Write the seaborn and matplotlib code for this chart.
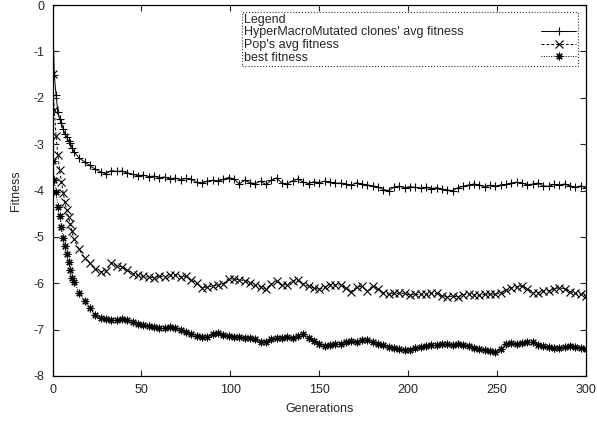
import numpy as np
import pandas as pd
import matplotlib
matplotlib.use("Agg")
import matplotlib.pyplot as plt
import seaborn as sns

# ------------------------------
# Data
# ------------------------------
gens = list(range(0, 12)) + list(range(12, 301, 3))

hm_avg = [0.00, -1.50, -1.95, -2.30, -2.45, -2.55, -2.68, -2.78, -2.85, -2.93, -2.98, -3.08,
          -3.16, -3.30, -3.38, -3.46, -3.54, -3.60, -3.64, -3.57, -3.59, -3.58, -3.62, -3.65,
          -3.68, -3.67, -3.70, -3.69, -3.72, -3.71, -3.75, -3.73, -3.77, -3.74, -3.76, -3.82,
          -3.84, -3.80, -3.78, -3.80, -3.76, -3.72, -3.75, -3.86, -3.78, -3.83, -3.85, -3.80,
          -3.87, -3.78, -3.73, -3.84, -3.86, -3.79, -3.75, -3.82, -3.85, -3.81, -3.83, -3.80,
          -3.82, -3.84, -3.84, -3.86, -3.89, -3.83, -3.86, -3.88, -3.90, -3.92, -3.98, -4.00,
          -3.93, -3.91, -3.94, -3.92, -3.93, -3.95, -3.93, -3.96, -3.94, -3.97, -3.99, -4.00,
          -3.94, -3.91, -3.88, -3.86, -3.88, -3.92, -3.89, -3.91, -3.88, -3.87, -3.84, -3.82,
          -3.84, -3.88, -3.86, -3.84, -3.90, -3.91, -3.87, -3.88, -3.86, -3.90, -3.93, -3.90,
          -3.94]

pop_avg = [-1.49, -2.26, -2.82, -3.23, -3.56, -3.81, -4.05, -4.25, -4.42, -4.58, -4.72, -4.88,
           -5.05, -5.27, -5.45, -5.57, -5.69, -5.75, -5.74, -5.56, -5.62, -5.65, -5.72, -5.79,
           -5.83, -5.85, -5.87, -5.88, -5.85, -5.86, -5.83, -5.82, -5.86, -5.85, -5.93, -6.00,
           -6.10, -6.08, -6.06, -6.04, -6.01, -5.90, -5.91, -5.92, -5.95, -6.00, -6.04, -6.08,
           -6.12, -6.02, -5.96, -6.04, -6.03, -5.95, -5.94, -6.02, -6.06, -6.10, -6.13, -6.08,
           -6.03, -6.04, -6.03, -6.10, -6.18, -6.08, -6.07, -6.17, -6.06, -6.12, -6.20, -6.24,
           -6.22, -6.21, -6.22, -6.25, -6.24, -6.24, -6.23, -6.22, -6.22, -6.27, -6.29, -6.28,
           -6.29, -6.25, -6.23, -6.25, -6.26, -6.24, -6.23, -6.24, -6.20, -6.15, -6.10, -6.08,
           -6.06, -6.12, -6.20, -6.20, -6.17, -6.16, -6.12, -6.10, -6.12, -6.18, -6.22, -6.24,
           -6.28]

best = [-3.36, -3.77, -4.04, -4.35, -4.56, -4.78, -5.03, -5.19, -5.37, -5.55, -5.72, -5.88,
        -5.98, -6.21, -6.39, -6.54, -6.68, -6.74, -6.78, -6.80, -6.80, -6.77, -6.79, -6.83,
        -6.88, -6.90, -6.92, -6.95, -6.97, -6.96, -6.95, -6.97, -7.01, -7.05, -7.10, -7.13,
        -7.15, -7.16, -7.09, -7.08, -7.11, -7.13, -7.15, -7.16, -7.17, -7.19, -7.20, -7.26,
        -7.27, -7.21, -7.18, -7.17, -7.16, -7.18, -7.13, -7.09, -7.19, -7.25, -7.30, -7.36,
        -7.34, -7.31, -7.30, -7.27, -7.25, -7.26, -7.23, -7.23, -7.27, -7.31, -7.34, -7.37,
        -7.40, -7.42, -7.45, -7.44, -7.40, -7.37, -7.35, -7.34, -7.33, -7.32, -7.32, -7.33,
        -7.32, -7.34, -7.36, -7.39, -7.41, -7.44, -7.46, -7.48, -7.42, -7.30, -7.29, -7.30,
        -7.28, -7.26, -7.27, -7.33, -7.36, -7.37, -7.39, -7.39, -7.37, -7.36, -7.37, -7.40,
        -7.42]

labels = ["HyperMacroMutated clones' avg fitness", "Pop's avg fitness", "best fitness"]
x_ticks = [0, 50, 100, 150, 200, 250, 300]
y_ticks = [0, -1, -2, -3, -4, -5, -6, -7, -8]

df = pd.DataFrame({"gen": gens, "hm": hm_avg, "pop": pop_avg, "best": best})

# ------------------------------
# Style (gnuplot look)
# ------------------------------
sns.set_style("ticks", {"xtick.direction": "in", "ytick.direction": "in"})
plt.rcParams["font.family"] = ["Liberation Sans", "DejaVu Sans"]
plt.rcParams["font.size"] = 9
FS = 9

fig = plt.figure(figsize=(5.97, 4.22), dpi=100)
ax = fig.add_axes([52.5 / 597, 46 / 422, 533.5 / 597, 371 / 422])

common = dict(ax=ax, color="black", linewidth=0.7, markersize=5.5,
              markeredgecolor="black", markeredgewidth=0.8)
sns.lineplot(data=df, x="gen", y="hm", marker="+", linestyle="-", label=labels[0], **common)
sns.lineplot(data=df, x="gen", y="pop", marker="x", linestyle=(0, (3, 2)), label=labels[1], **common)
sns.lineplot(data=df, x="gen", y="best", marker=(8, 2, 0), linestyle=(0, (1, 1.5)), label=labels[2], **common)

ax.set_xlim(0, 300)
ax.set_ylim(-8, 0)
ax.set_xticks(x_ticks)
ax.set_yticks(y_ticks)
ax.set_xticklabels([str(t) for t in x_ticks])
ax.set_yticklabels([str(t) for t in y_ticks])
ax.tick_params(top=True, right=True, direction="in", length=4, width=0.8, labelsize=FS, pad=6)
for s in ax.spines.values():
    s.set_linewidth(0.9)
    s.set_color("black")

ax.set_xlabel("Generations", fontsize=FS, labelpad=5)
ax.set_ylabel("Fitness", fontsize=FS, labelpad=8)

leg = ax.legend(title="Legend", loc="upper right", fontsize=FS, title_fontsize=FS, alignment="left",
                markerfirst=False, handlelength=2.8, handletextpad=6.2, labelspacing=0.05,
                borderpad=0.15, borderaxespad=0, frameon=True, fancybox=False)
leg.set_bbox_to_anchor(((578 - 52.5) / 533.5, 1 - 7 / 371), transform=ax.transAxes)
leg.get_frame().set_linestyle(":")
leg.get_frame().set_edgecolor("black")
leg.get_frame().set_linewidth(0.8)

# left-align legend texts while keeping the line samples on the right
fig.canvas.draw()
renderer = fig.canvas.get_renderer()
dpicor = renderer.points_to_pixels(1.0)
column = leg._legend_handle_box.get_children()[0]
items = column.get_children()
widths = [it.get_children()[0].get_bbox(renderer).width for it in items]
wmax = max(widths)
for it, w in zip(items, widths):
    it.sep = it.sep + (wmax - w) / dpicor

fig.savefig("out.png", dpi=100)
